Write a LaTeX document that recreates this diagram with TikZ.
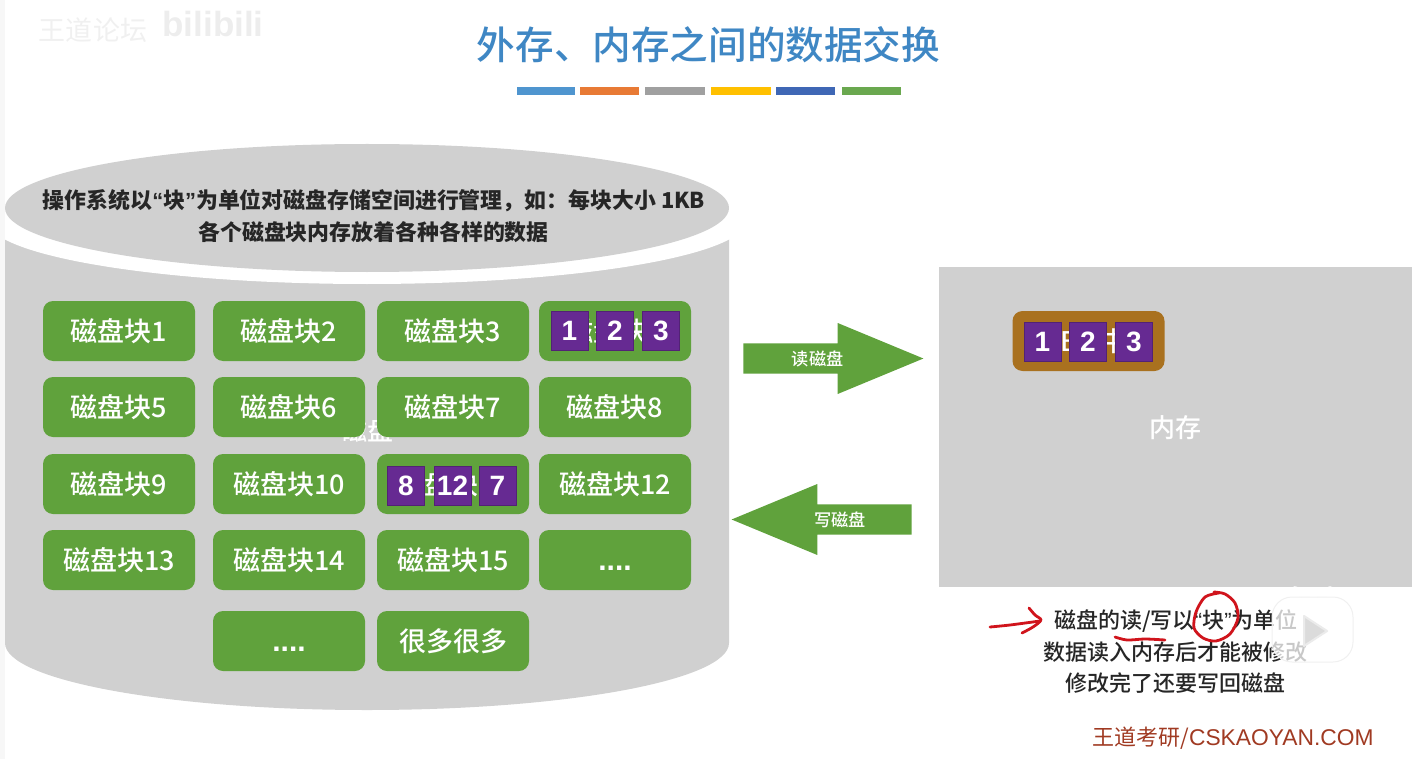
\documentclass[tikz,border=0pt]{standalone}
\usepackage{fontspec}
\setmainfont{Noto Sans CJK SC}
\newfontfamily\helv{Liberation Sans}
\newfontfamily\medcjk{Noto Sans CJK SC Medium}
\usetikzlibrary{shapes.arrows}
\definecolor{diskgray}{HTML}{D0D0D0}
\definecolor{blockgreen}{HTML}{60A23C}
\definecolor{datapurple}{HTML}{662A92}
\definecolor{membrown}{HTML}{A9711F}
\definecolor{titleblue}{HTML}{3F87C4}
\definecolor{markred}{HTML}{D0141C}
\definecolor{footred}{HTML}{A03A22}
\tikzset{
	diskblock/.style = {rectangle, rounded corners = 5pt, fill = blockgreen, text = white, font = \medcjk\fontsize{13.5}{15}\selectfont, minimum width = 76pt, minimum height = 30pt, inner sep = 0pt},
	datasq/.style = {rectangle, fill = datapurple, draw = datapurple!80!black, line width = .3pt, text = white, font = \helv\bfseries\fontsize{14}{16}\selectfont, minimum width = 18.5pt, minimum height = 19.5pt, inner sep = 0pt},
	bigarrow/.style = {single arrow, fill = blockgreen, text = white, font = \medcjk\fontsize{8.6}{10}\selectfont, single arrow tip angle = 45, single arrow head extend = 9.75pt, single arrow head indent = 0pt, minimum width = 35.5pt, minimum height = 90pt, inner xsep = 0pt, inner ysep = 3pt},
	notetext/.style = {text = black!85, font = \medcjk\fontsize{11}{13}\selectfont, inner sep = 0pt},
	redmark/.style = {draw = markred, line width = 1.4pt, line cap = round, line join = round},
	titlebar/.style = {rectangle, minimum height = 4pt, inner sep = 0pt}
}
\newcommand{\qblock}{{\helv “}块{\helv ”}}
\newcommand{\blkdots}{\vphantom{磁}{\helv\bfseries\fontsize{15}{17}\selectfont ....}}
\begin{document}
\begin{tikzpicture}[x = .5pt, y = -.5pt]
	\useasboundingbox (0,0) rectangle (1412,759);
	% watermark
	\node[text = black!6, font = \fontsize{13.5}{15}\selectfont, inner sep = 0pt] (wmark) at (93,30) {王道论坛};
	\node[text = black!7, font = \helv\bfseries\fontsize{17.5}{21}\selectfont, inner sep = 0pt] (wsite) at (213,24) {bilibili};
	% title
	\node[text = titleblue, font = \medcjk\fontsize{19.3}{22}\selectfont, inner sep = 0pt] (title) at (708.5,45) {外存、内存之间的数据交换};
	\foreach \a/\b/\c in {546/29/4F95CF, 609.5/29.5/E87A35, 675/30/A0A0A0, 741/30/FFC000, 805.5/29.5/3F67B5, 871.5/29.5/6AA84F} {
		\definecolor{barcol}{HTML}{\c}
		\node[titlebar, fill = barcol, minimum width = \b pt] (bar\a) at (\a,91) {};
	}
	% disk
	\fill[diskgray] (5,225) -- (5,643) arc[start angle = 180, end angle = 0, x radius = 362, y radius = 67] -- (729,225) -- cycle;
	\fill[white] (367,220) circle[x radius = 380, y radius = 64];
	\fill[diskgray] (367,208) circle[x radius = 362, y radius = 64];
	\fill[black!3] (0,0) rectangle (5,759); %left strip
	\node[notetext, font = \bfseries\fontsize{10.95}{13}\selectfont] (diskline1) at (374,201) {操作系统以\qblock 为单位对磁盘存储空间进行管理，如：每块大小 1KB};
	\node[notetext, font = \bfseries\fontsize{10.95}{13}\selectfont] (diskline2) at (373.5,232) {各个磁盘块内存放着各种各样的数据};
	\node[text = white, font = \medcjk\fontsize{13}{15}\selectfont, inner sep = 0pt] (disklabel) at (367,430) {磁盘};
	% blocks
	\foreach \n/\x/\y/\t in {1/119/331/磁盘块1, 2/289/331/磁盘块2, 3/453/331/磁盘块3, 4/615/331/磁盘块4,
		5/119/407/磁盘块5, 6/289/407/磁盘块6, 7/453/407/磁盘块7, 8/615/407/磁盘块8,
		9/119/484/磁盘块9, 10/289/484/磁盘块10, 11/453/484/磁盘块11, 12/615/484/磁盘块12,
		13/119/560/磁盘块13, 14/289/560/磁盘块14, 15/453/560/磁盘块15, 16/615/560/\blkdots,
		17/289/641/\blkdots, 18/453/641/很多很多} {
		\node[diskblock] (blk\n) at (\x,\y) {\t};
	}
	\foreach \n/\x/\y/\t in {a/569.5/330.5/1, b/615/330.5/2, c/661/330.5/3, d/406/485.5/8, e/452.5/485.5/12, f/497.5/485.5/7} {
		\node[datasq] (sq\n) at (\x,\y) {\t};
	}
	% arrows
	\node[bigarrow, anchor = tail] (readarrow) at (743,358.5) {\hspace{2.5pt}读磁盘};
	\node[bigarrow, shape border rotate = 180, anchor = tail] (writearrow) at (912,519.5) {写磁盘\hspace{2.5pt}};
	% memory
	\fill[diskgray] (939,267) rectangle (1412,587);
	\node[text = white, font = \medcjk\fontsize{13}{15}\selectfont, inner sep = 0pt] (memlabel) at (1175,428) {内存};
	\node[diskblock, fill = membrown] (memblk) at (1088.5,341) {\hspace{5.5pt}B\hspace{11pt}中};
	\foreach \n/\x/\t in {a/1042.5/1, b/1088/2, c/1134/3} {
		\node[datasq] (msq\n) at (\x,342) {\t};
	}
	% notes
	\node[notetext] (note1) at (1176,621) {磁盘的读/写以\qblock 为单位};
	\node[notetext] (note2) at (1175.5,652) {数据读入内存后才能被修改};
	\node[notetext] (note3) at (1175,683) {修改完了还要写回磁盘};
	\node[text = footred, font = \fontsize{11}{13}\selectfont, inner sep = 0pt] (footer) at (1233,738) {王道考研/{\helv\fontsize{11.4}{13}\selectfont CSKAOYAN.COM}};
	% hand marks
	\draw[redmark] plot[smooth] coordinates {(990,627) (1010,625) (1040,621)};
	\draw[redmark] plot[smooth] coordinates {(1029,608) (1035,615) (1041,620) (1033,627) (1022,633)};
	\draw[redmark] plot[smooth] coordinates {(1115,637) (1127,640) (1145,639) (1165,640)};
	\draw[redmark] plot[smooth] coordinates {(1219,593) (1205,597) (1196,612) (1194,628) (1203,638) (1216,641) (1230,634) (1238,618) (1235,603) (1225,594) (1214,592)};
	% play logo
	\fill[white, opacity = .75, rounded corners = 10pt] (1272,597) rectangle (1353,662);
	\draw[white, opacity = .75, line width = 3pt, line cap = round] (1295,589) -- (1307,598) (1330,589) -- (1320,598);
	\draw[black!6, line width = .5pt, rounded corners = 10pt] (1272,597) rectangle (1353,662);
	\fill[black!14, draw = black!8, line width = 1pt, line join = round] (1304,616) -- (1327,631) -- (1304,646) -- cycle;
\end{tikzpicture}
\end{document}
